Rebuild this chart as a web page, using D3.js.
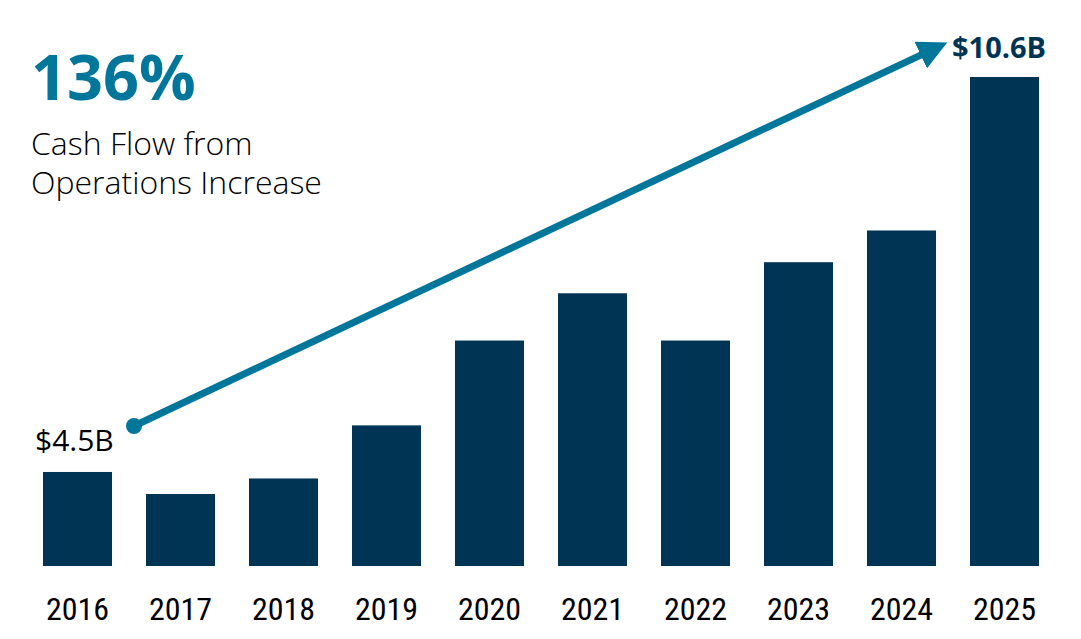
<!DOCTYPE html>
<html>
<head>
<meta charset="utf-8">
<script src="https://cdn.jsdelivr.net/npm/d3@7"></script>
<style>
  html, body { margin: 0; padding: 0; background: #fff; }
  svg { display: block; }
</style>
</head>
<body>
<svg id="chart" width="1081" height="639"></svg>
<script>
// data (USD billions)
const years = ["2016", "2017", "2018", "2019", "2020", "2021", "2022", "2023", "2024", "2025"];
const cashFlow = [4.5, 4.16, 4.4, 5.22, 6.53, 7.26, 6.53, 7.74, 8.23, 10.6];
const startLabel = "$4.5B";
const endLabel = "$10.6B";
const headline = "136%";
const subtitle = ["Cash Flow from", "Operations Increase"];

const width = 1081;
const height = 639;
const navy = "#003455";
const teal = "#00769a";

const svg = d3.select("#chart");

// scales
const x = d3.scaleBand()
  .domain(years)
  .range([26, 1056])
  .paddingInner(0.33)
  .paddingOuter(0.165);

// the axis does not start at zero in the original
const y = d3.scaleLinear()
  .domain([3.048, 10.6])
  .range([566, 77]);

// bars
svg.append("g")
  .selectAll("rect")
  .data(years)
  .join("rect")
  .attr("x", d => x(d))
  .attr("y", (d, i) => y(cashFlow[i]))
  .attr("width", x.bandwidth())
  .attr("height", (d, i) => y.range()[0] - y(cashFlow[i]))
  .attr("fill", navy);

// year labels
const xAxis = d3.axisBottom(x).tickSize(0).tickPadding(0);
const gx = svg.append("g")
  .attr("transform", `translate(0,${y.range()[0] + 31})`)
  .call(xAxis);
gx.select(".domain").remove();
gx.selectAll("text")
  .attr("font-family", "'Liberation Sans Narrow', 'Roboto Condensed', Roboto, sans-serif")
  .attr("font-size", 32)
  .attr("font-weight", 400)
  .attr("fill", "#000");

// growth arrow from first to last value
const first = years[0], last = years[years.length - 1];
const x1 = x(first) + x.bandwidth() + 22;
const y1 = y(cashFlow[0]) - 46;
const x2 = x(last) - 30;
const y2 = y(cashFlow[cashFlow.length - 1]) - 31;

svg.append("defs").append("marker")
  .attr("id", "head")
  .attr("viewBox", "0 0 10 10")
  .attr("refX", 2)
  .attr("refY", 5)
  .attr("markerWidth", 4.2)
  .attr("markerHeight", 4.2)
  .attr("orient", "auto")
  .append("path")
  .attr("d", "M0,0L10,5L0,10Z")
  .attr("fill", teal);

svg.append("line")
  .attr("x1", x1).attr("y1", y1)
  .attr("x2", x2 - 14).attr("y2", y2 + (y1 - y2) * 14 / (x2 - x1))
  .attr("stroke", teal)
  .attr("stroke-width", 7)
  .attr("marker-end", "url(#head)");

svg.append("circle")
  .attr("cx", x1).attr("cy", y1)
  .attr("r", 8)
  .attr("fill", teal);

// value labels
svg.append("text")
  .attr("x", x(first) - 8)
  .attr("y", y1 + 25)
  .attr("font-family", "'Open Sans', sans-serif")
  .attr("font-size", 30)
  .attr("fill", "#000")
  .text(startLabel);

svg.append("text")
  .attr("x", x(last) - 18)
  .attr("y", y2 + 12)
  .attr("font-family", "'Open Sans', sans-serif")
  .attr("font-weight", 700)
  .attr("font-size", 29)
  .attr("fill", navy)
  .text(endLabel);

// headline block
svg.append("text")
  .attr("x", 31)
  .attr("y", 100)
  .attr("font-family", "'Open Sans', sans-serif")
  .attr("font-weight", 700)
  .attr("font-size", 63)
  .attr("fill", teal)
  .text(headline);

svg.append("g")
  .selectAll("text")
  .data(subtitle)
  .join("text")
  .attr("x", 31)
  .attr("y", (d, i) => 155 + i * 39)
  .attr("font-family", "'Open Sans', sans-serif")
  .attr("font-weight", 300)
  .attr("font-size", 32)
  .attr("fill", "#000")
  .text(d => d);
</script>
</body>
</html>
